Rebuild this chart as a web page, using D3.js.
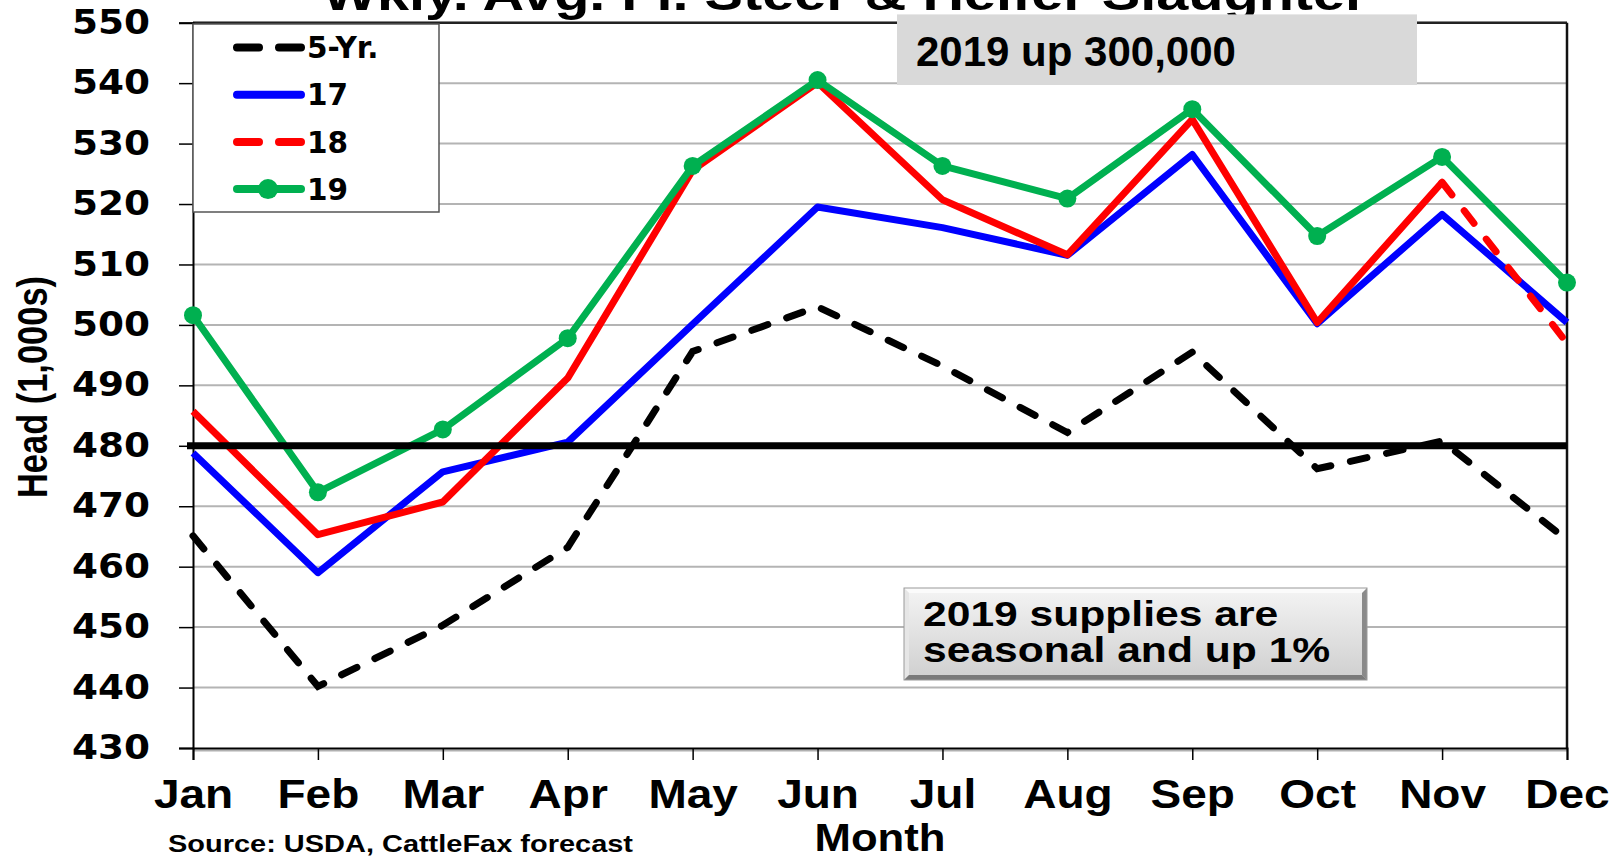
<!DOCTYPE html>
<html>
<head>
<meta charset="utf-8">
<script src="https://cdn.jsdelivr.net/npm/d3@7"></script>
<style>
  body { margin: 0; background: #fff; }
  svg { display: block; }
  text { font-family: "Liberation Sans", Arial, sans-serif; font-weight: bold; fill: #000; }
</style>
</head>
<body>
<svg id="chart" width="1616" height="856"></svg>
<script>
const months = ["Jan", "Feb", "Mar", "Apr", "May", "Jun", "Jul", "Aug", "Sep", "Oct", "Nov", "Dec"];
const yTicks = [430, 440, 450, 460, 470, 480, 490, 500, 510, 520, 530, 540, 550];

const fiveYr = [465.1, 440.2, 450.3, 463.2, 495.6, 503.0, 493.2, 482.2, 495.5, 476.2, 480.8, 464.4];
const y17 = [478.8, 459.0, 475.7, 480.6, 500.1, 519.5, 516.1, 511.5, 528.2, 500.2, 518.3, 500.4];
const y18 = [485.7, 465.3, 470.7, 491.2, 525.6, 540.1, 520.7, 511.6, 534.0, 500.4, 523.6, 497.0];
const y19 = [501.6, 472.3, 482.7, 497.8, 526.3, 540.5, 526.3, 520.9, 535.7, 514.7, 527.8, 507.0];
const refLine = 480;
const forecastFrom = "Nov"; // 18 is dashed from here on

const svg = d3.select("#chart");
const margin = { top: 22.7, right: 49, bottom: 108, left: 193 };
const W = 1616, H = 856;

const x = d3.scalePoint().domain(months).range([margin.left, W - margin.right]);
const y = d3.scaleLinear().domain([430, 550]).range([H - margin.bottom, margin.top]);

// widen text horizontally like the stretched original
function stretch(sel, f) {
  sel.each(function () {
    const w = this.getComputedTextLength();
    d3.select(this).attr("textLength", w * f).attr("lengthAdjust", "spacingAndGlyphs");
  });
}

// title, mostly cut off at the top (as in the original)
svg.append("text")
  .attr("x", 845).attr("y", 10)
  .attr("text-anchor", "middle")
  .style("font-size", "46px")
  .attr("textLength", 1045).attr("lengthAdjust", "spacingAndGlyphs")
  .text("Wkly. Avg. Fl. Steer & Heifer Slaughter");

// gridlines
svg.append("g")
  .selectAll("line")
  .data(yTicks.slice(1))
  .join("line")
  .attr("x1", margin.left).attr("x2", W - margin.right)
  .attr("y1", d => y(d)).attr("y2", d => y(d))
  .attr("stroke", "#b4b4b4").attr("stroke-width", 2);

// top and right borders
svg.append("line")
  .attr("x1", margin.left).attr("x2", W - margin.right)
  .attr("y1", y(550)).attr("y2", y(550))
  .attr("stroke", "#222").attr("stroke-width", 2.5);
svg.append("line")
  .attr("x1", W - margin.right).attr("x2", W - margin.right)
  .attr("y1", y(550)).attr("y2", y(430))
  .attr("stroke", "#111").attr("stroke-width", 2.5);

// bottom shadow
svg.append("line")
  .attr("x1", margin.left).attr("x2", W - margin.right)
  .attr("y1", y(430) + 2.5).attr("y2", y(430) + 2.5)
  .attr("stroke", "#b0b0b0").attr("stroke-width", 2);

// y axis
const yAxis = svg.append("g")
  .attr("transform", `translate(${margin.left},0)`)
  .call(d3.axisLeft(y).tickValues(yTicks).tickSize(14).tickPadding(29));
yAxis.select(".domain").attr("stroke", "#000").attr("stroke-width", 2);
yAxis.selectAll(".tick line").attr("stroke", "#000").attr("stroke-width", 1.5);
yAxis.selectAll(".tick text")
  .style("font-family", "'DejaVu Sans', sans-serif")
  .style("font-size", "33px")
  .attr("textLength", 78).attr("lengthAdjust", "spacingAndGlyphs");

// x axis
const xAxis = svg.append("g")
  .attr("transform", `translate(0,${y(430)})`)
  .call(d3.axisBottom(x).tickSize(12).tickPadding(20));
xAxis.select(".domain").attr("stroke", "#000").attr("stroke-width", 2);
xAxis.selectAll(".tick line").attr("stroke", "#000").attr("stroke-width", 1.5);
xAxis.selectAll(".tick text").style("font-size", "40px").attr("dy", "0.71em");
stretch(xAxis.selectAll(".tick text"), 1.15);

// axis titles
svg.append("text")
  .attr("transform", "translate(47,387) rotate(-90)")
  .attr("text-anchor", "middle")
  .style("font-family", "'Liberation Sans Narrow', 'Liberation Sans', sans-serif")
  .style("font-size", "42px")
  .attr("textLength", 222).attr("lengthAdjust", "spacingAndGlyphs")
  .text("Head (1,000s)");

const monthLbl = svg.append("text")
  .attr("x", 880).attr("y", 851)
  .attr("text-anchor", "middle")
  .style("font-size", "39px")
  .text("Month");
stretch(monthLbl, 1.12);

svg.append("text")
  .attr("x", 168).attr("y", 852)
  .style("font-size", "24px")
  .attr("textLength", 465).attr("lengthAdjust", "spacingAndGlyphs")
  .text("Source: USDA, CattleFax forecast");

// series
const line = d3.line().x(d => x(d.m)).y(d => y(d.v));
const pts = arr => arr.map((v, i) => ({ m: months[i], v }));
const fi = months.indexOf(forecastFrom);

svg.append("path")
  .attr("d", line(pts(fiveYr)))
  .attr("fill", "none").attr("stroke", "#000").attr("stroke-width", 7)
  .attr("stroke-dasharray", "17,20").attr("stroke-linecap", "round");

svg.append("path")
  .attr("d", line(pts(y17)))
  .attr("fill", "none").attr("stroke", "#0000ff").attr("stroke-width", 7)
  .attr("stroke-linejoin", "round");

svg.append("path")
  .attr("d", line(pts(y18).slice(0, fi + 1)))
  .attr("fill", "none").attr("stroke", "#ff0000").attr("stroke-width", 7)
  .attr("stroke-linejoin", "round");
svg.append("path")
  .attr("d", line(pts(y18).slice(fi)))
  .attr("fill", "none").attr("stroke", "#ff0000").attr("stroke-width", 7)
  .attr("stroke-dasharray", "16,20").attr("stroke-linecap", "round");

svg.append("path")
  .attr("d", line(pts(y19)))
  .attr("fill", "none").attr("stroke", "#00b050").attr("stroke-width", 7)
  .attr("stroke-linejoin", "round");
svg.append("g")
  .selectAll("circle")
  .data(pts(y19))
  .join("circle")
  .attr("cx", d => x(d.m)).attr("cy", d => y(d.v)).attr("r", 9)
  .attr("fill", "#00b050");

// 480 reference line
svg.append("line")
  .attr("x1", margin.left - 6).attr("x2", W - margin.right)
  .attr("y1", y(refLine)).attr("y2", y(refLine))
  .attr("stroke", "#000").attr("stroke-width", 7);

// legend
const legend = svg.append("g");
legend.append("rect")
  .attr("x", 193).attr("y", 24).attr("width", 246).attr("height", 188)
  .attr("fill", "#fff").attr("stroke", "#555").attr("stroke-width", 1.5);
const legItems = [
  { name: "5-Yr.", color: "#000", dash: "22,20", dot: false },
  { name: "17", color: "#0000ff", dash: null, dot: false },
  { name: "18", color: "#ff0000", dash: "22,20", dot: false },
  { name: "19", color: "#00b050", dash: null, dot: true }
];
legItems.forEach((d, i) => {
  const cy = 47.5 + i * 47.2;
  legend.append("line")
    .attr("x1", 237).attr("x2", 301).attr("y1", cy).attr("y2", cy)
    .attr("stroke", d.color).attr("stroke-width", 8).attr("stroke-linecap", "round")
    .attr("stroke-dasharray", d.dash);
  if (d.dot) legend.append("circle").attr("cx", 268).attr("cy", cy).attr("r", 10).attr("fill", d.color);
  legend.append("text")
    .attr("x", 307).attr("y", cy).attr("dy", "0.36em")
    .style("font-family", "'DejaVu Sans', sans-serif")
    .style("font-size", "29.5px")
    .text(d.name);
});

// top note box
svg.append("rect")
  .attr("x", 897).attr("y", 14.4).attr("width", 520).attr("height", 70.6)
  .attr("fill", "#d9d9d9");
svg.append("text")
  .attr("x", 916).attr("y", 66)
  .style("font-size", "42px")
  .text("2019 up 300,000");

// bevelled note box
const bx = 904, by = 588, bw = 463, bh = 92, bv = 5;
const defs = svg.append("defs");
const grad = defs.append("linearGradient").attr("id", "face").attr("x1", 0).attr("y1", 0).attr("x2", 0).attr("y2", 1);
grad.append("stop").attr("offset", "0%").attr("stop-color", "#f4f4f4");
grad.append("stop").attr("offset", "100%").attr("stop-color", "#cfcfcf");
const box = svg.append("g");
box.append("rect").attr("x", bx).attr("y", by).attr("width", bw).attr("height", bh).attr("fill", "url(#face)");
const bevel = [
  { p: [[bx, by], [bx + bw, by], [bx + bw - bv, by + bv], [bx + bv, by + bv]], c: "#fbfbfb" },
  { p: [[bx, by], [bx + bv, by + bv], [bx + bv, by + bh - bv], [bx, by + bh]], c: "#e6e6e6" },
  { p: [[bx + bw, by], [bx + bw, by + bh], [bx + bw - bv, by + bh - bv], [bx + bw - bv, by + bv]], c: "#8a8a8a" },
  { p: [[bx, by + bh], [bx + bv, by + bh - bv], [bx + bw - bv, by + bh - bv], [bx + bw, by + bh]], c: "#7a7a7a" }
];
box.selectAll("polygon").data(bevel).join("polygon")
  .attr("points", d => d.p.map(q => q.join(",")).join(" "))
  .attr("fill", d => d.c);
box.append("rect").attr("x", bx).attr("y", by).attr("width", bw).attr("height", bh)
  .attr("fill", "none").attr("stroke", "#9a9a9a").attr("stroke-width", 1);
const noteLines = ["2019 supplies are", "seasonal and up 1%"];
const nt = box.selectAll("text.note").data(noteLines).join("text")
  .attr("class", "note")
  .attr("x", 923).attr("y", (d, i) => 625.5 + i * 36.5)
  .style("font-size", "35.5px")
  .text(d => d);
stretch(nt, 1.2);
</script>
</body>
</html>
